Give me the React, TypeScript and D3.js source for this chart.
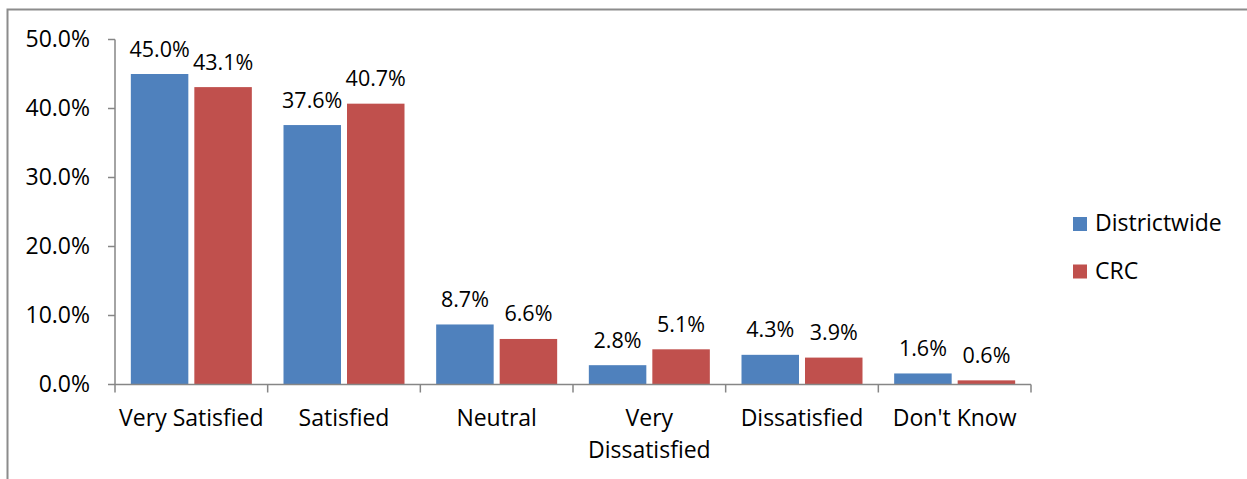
import { useEffect, useRef } from "react";
import * as d3 from "d3";

const categories = [
  "Very Satisfied",
  "Satisfied",
  "Neutral",
  "Very Dissatisfied",
  "Dissatisfied",
  "Don't Know",
];
const seriesNames = ["Districtwide", "CRC"];
const districtwide = [45.0, 37.6, 8.7, 2.8, 4.3, 1.6];
const crc = [43.1, 40.7, 6.6, 5.1, 3.9, 0.6];
const yTicks = [0, 10, 20, 30, 40, 50];
const colors = ["#4F81BD", "#C0504D"];

const width = 1247;
const height = 479;
const font = "'Open Sans', Lato, sans-serif";
const fontSize = 23;
const labelSize = 21.5;

const App = () => {
  const ref = useRef<SVGSVGElement>(null);

  useEffect(() => {
    const svg = d3.select(ref.current!);
    svg.selectAll("*").remove();

    // outer chart border (cut by the window on right/bottom)
    svg
      .append("rect")
      .attr("x", 7.5)
      .attr("y", 9.5)
      .attr("width", 1260)
      .attr("height", 500)
      .attr("fill", "white")
      .attr("stroke", "#8c8c8c")
      .attr("stroke-width", 2);

    const x = d3
      .scaleBand<string>()
      .domain(categories)
      .range([115, 1031])
      .paddingInner(0.2074)
      .paddingOuter(0.1037);
    const xs = d3
      .scaleBand<string>()
      .domain(seriesNames)
      .range([0, x.bandwidth()])
      .paddingInner(0.0945);
    const y = d3.scaleLinear().domain([0, 50]).range([384.5, 39.5]);

    const values = [districtwide, crc];
    const axisColor = "#868686";

    // y axis
    svg
      .append("line")
      .attr("x1", 115)
      .attr("x2", 115)
      .attr("y1", y(50))
      .attr("y2", y(0))
      .attr("stroke", axisColor)
      .attr("stroke-width", 1.5);
    const yg = svg.append("g");
    yTicks.forEach((t) => {
      yg.append("line")
        .attr("x1", 108)
        .attr("x2", 115)
        .attr("y1", y(t))
        .attr("y2", y(t))
        .attr("stroke", axisColor)
        .attr("stroke-width", 1.5);
      yg.append("text")
        .attr("x", 90)
        .attr("y", y(t))
        .attr("dy", "0.34em")
        .attr("text-anchor", "end")
        .attr("font-family", font)
        .attr("font-size", fontSize)
        .attr("fill", "#000")
        .text(`${t.toFixed(1)}%`);
    });

    // bars
    values.forEach((vals, si) => {
      const g = svg.append("g");
      g.selectAll("rect")
        .data(vals)
        .join("rect")
        .attr("x", (_, i) => x(categories[i])! + xs(seriesNames[si])!)
        .attr("y", (d) => y(d))
        .attr("width", xs.bandwidth())
        .attr("height", (d) => y(0) - y(d))
        .attr("fill", colors[si]);
      g.selectAll("text")
        .data(vals)
        .join("text")
        .attr(
          "x",
          (_, i) => x(categories[i])! + xs(seriesNames[si])! + xs.bandwidth() / 2
        )
        .attr("y", (d) => y(d) - 17.5)
        .attr("text-anchor", "middle")
        .attr("font-family", font)
        .attr("font-size", labelSize)
        .attr("fill", "#000")
        .text((d) => `${d.toFixed(1)}%`);
    });

    // x axis
    svg
      .append("line")
      .attr("x1", 115)
      .attr("x2", 1031)
      .attr("y1", y(0))
      .attr("y2", y(0))
      .attr("stroke", axisColor)
      .attr("stroke-width", 1.5);
    const step = x.step();
    d3.range(categories.length + 1).forEach((i) => {
      svg
        .append("line")
        .attr("x1", 115 + i * step)
        .attr("x2", 115 + i * step)
        .attr("y1", y(0))
        .attr("y2", y(0) + 8)
        .attr("stroke", axisColor)
        .attr("stroke-width", 1.5);
    });
    categories.forEach((c) => {
      const cx = x(c)! + x.bandwidth() / 2;
      const words = c === "Very Dissatisfied" ? ["Very", "Dissatisfied"] : [c];
      const t = svg
        .append("text")
        .attr("text-anchor", "middle")
        .attr("font-family", font)
        .attr("font-size", fontSize)
        .attr("fill", "#000");
      words.forEach((w, li) => {
        t.append("tspan")
          .attr("x", cx)
          .attr("y", 426 + li * 32)
          .text(w);
      });
    });

    // legend
    seriesNames.forEach((s, i) => {
      const ly = 217 + i * 47.5;
      svg
        .append("rect")
        .attr("x", 1073)
        .attr("y", ly)
        .attr("width", 14)
        .attr("height", 14)
        .attr("fill", colors[i]);
      svg
        .append("text")
        .attr("x", 1095)
        .attr("y", ly + 14)
        .attr("font-family", font)
        .attr("font-size", fontSize)
        .attr("fill", "#000")
        .text(s);
    });
  }, []);

  return (
    <svg
      ref={ref}
      width={width}
      height={height}
      style={{ position: "absolute", left: 0, top: 0, background: "white" }}
    />
  );
};

export default App;
